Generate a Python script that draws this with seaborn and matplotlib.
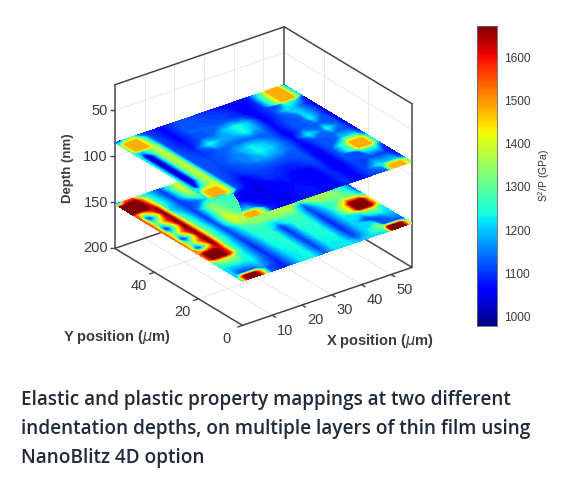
import numpy as np
import matplotlib
matplotlib.use("Agg")
import matplotlib.pyplot as plt
import seaborn as sns

nan = np.nan

# positions of the map columns and rows, in micrometres
x_positions = [0, 1.7, 2.9, 5.7, 7.4, 9.7, 14.8, 20, 23.9, 27.9, 31.9, 35.9, 39.9, 44.5, 49, 50.7, 54.7, 57]
y_positions = [0, 2.3, 4.1, 9.3, 13.9, 15.7, 19.7, 23.2, 26.7, 30.2, 33.9, 37.7, 41.8, 45.8, 49.3, 50.5, 55.7, 58]

# S2/P values, rows go from y=0 to y=max
upper_map = [
    [nan, 1450, 1480, 1480, 1350, 1090, 1050, 1070, 1080, 1070, 1060, 1090, 1060, 1110, 1130, 1470, 1480, 1300],
    [nan, 1450, 1480, 1480, 1350, 1090, 1050, 1070, 1080, 1070, 1060, 1090, 1060, 1110, 1160, 1470, 1480, 1300],
    [nan, nan, 1200, 1200, 1120, 1070, 1050, 1070, 1080, 1070, 1060, 1090, 1060, 1110, 1230, 1200, 1200, 1100],
    [nan, nan, nan, 1070, 1060, 1050, 1040, 1060, 1070, 1060, 1050, 1090, 1040, 1110, 1110, 1110, 1090, 1070],
    [nan, nan, nan, nan, 1080, 1060, 1030, 1070, 1080, 1060, 1060, 1100, 1040, 1120, 1120, 1250, 1250, 1100],
    [1200, 1470, 1480, 1480, 1400, 1110, 1040, 1090, 1090, 1070, 1080, 1110, 1040, 1120, 1300, 1480, 1480, 1200],
    [1200, 1470, 1480, 1480, 1400, 1120, 1060, 1100, 1100, 1090, 1100, 1120, 1040, 1120, 1300, 1480, 1480, 1200],
    [1230, 1040, 1200, 1340, 1380, 1120, 1090, 1120, 1130, 1130, 1120, 1120, 1050, 1120, 1130, 1200, 1200, 1080],
    [1240, 1020, 1020, 1340, 1380, 1120, 1100, 1130, 1170, 1190, 1170, 1130, 1060, 1120, 1130, 1140, 1120, 1060],
    [1240, 1010, 1020, 1340, 1380, 1120, 1110, 1150, 1160, 1240, 1210, 1140, 1060, 1230, 1140, 1240, 1130, 1050],
    [1240, 1010, 1020, 1340, 1380, 1120, 1110, 1130, 1180, 1230, 1190, 1130, 1050, 1120, 1130, 1130, 1120, 1050],
    [1240, 1010, 1020, 1340, 1380, 1120, 1100, 1130, 1140, 1130, 1130, 1130, 1060, 1120, 1130, 1230, 1110, 1050],
    [1240, 1010, 1020, 1340, 1380, 1120, 1080, 1240, 1180, 1180, 1240, 1170, 1060, 1110, 1140, 1210, 1120, 1050],
    [1240, 1020, 1020, 1340, 1380, 1110, 1070, 1120, 1130, 1200, 1250, 1190, 1050, 1100, 1230, 1200, 1100, 1050],
    [1240, 1200, 1240, 1340, 1380, 1120, 1060, 1120, 1130, 1130, 1130, 1110, 1050, 1100, 1140, 1300, 1200, 1070],
    [1300, 1480, 1480, 1480, 1350, 1120, 1060, 1130, 1130, 1120, 1110, 1090, 1050, 1100, 1350, 1480, 1480, 1180],
    [1300, 1480, 1480, 1480, 1300, 1110, 1060, 1120, 1120, 1110, 1100, 1080, 1040, 1090, 1350, 1480, 1480, 1180],
    [1100, 1060, 1250, 1300, 1150, 1100, 1060, 1110, 1110, 1100, 1080, 1060, 1040, 1080, 1300, 1480, 1480, 1120],
]
lower_map = [
    [1220, 1600, 1680, 1680, 1500, 1120, 1080, 1220, 1240, 1120, 1230, 1230, 1190, 1220, 1210, 1680, 1680, 1300],
    [1220, 1600, 1680, 1680, 1500, 1120, 1080, 1220, 1240, 1110, 1230, 1230, 1130, 1220, 1300, 1680, 1680, 1300],
    [1210, 1120, 1100, 1100, 1120, 1170, 1080, 1220, 1240, 1100, 1230, 1230, 1100, 1210, 1340, 1120, 1100, 1120],
    [1230, 1210, 1220, 1230, 1230, 1240, 1080, 1230, 1250, 1090, 1240, 1240, 1080, 1210, 1090, 1120, 1200, 1200],
    [1300, 1350, 1380, 1380, 1350, 1250, 1080, 1240, 1250, 1090, 1240, 1240, 1080, 1220, 1240, 1350, 1350, 1240],
    [1500, 1680, 1680, 1680, 1600, 1270, 1080, 1240, 1260, 1080, 1250, 1250, 1080, 1220, 1450, 1680, 1680, 1400],
    [1500, 1670, 1680, 1680, 1600, 1280, 1090, 1250, 1260, 1090, 1260, 1260, 1090, 1220, 1450, 1680, 1680, 1400],
    [1500, 1100, 1090, 1400, 1680, 1310, 1100, 1260, 1260, 1210, 1270, 1270, 1100, 1240, 1290, 1330, 1280, 1170],
    [1520, 1330, 1330, 1560, 1680, 1320, 1100, 1280, 1340, 1340, 1360, 1360, 1120, 1340, 1340, 1340, 1240, 1120],
    [1520, 1090, 1090, 1400, 1680, 1330, 1100, 1400, 1360, 1350, 1370, 1370, 1350, 1370, 1380, 1300, 1230, 1120],
    [1540, 1330, 1330, 1580, 1680, 1320, 1090, 1410, 1280, 1280, 1280, 1280, 1280, 1280, 1280, 1280, 1280, 1200],
    [1540, 1090, 1090, 1400, 1680, 1310, 1090, 1350, 1280, 1280, 1280, 1280, 1280, 1280, 1280, 1280, 1280, 1200],
    [1540, 1330, 1330, 1580, 1680, 1290, 1090, 1340, 1270, 1270, 1270, 1270, 1270, 1270, 1270, 1270, 1270, 1200],
    [1550, 1090, 1090, 1400, 1680, 1220, 1100, 1150, 1270, 1270, 1270, 1270, 1270, 1270, 1270, 1270, 1270, 1200],
    [1560, 1450, 1450, 1600, 1660, 1270, 1090, 1300, 1260, 1260, 1260, 1260, 1260, 1260, 1260, 1260, 1260, 1200],
    [1680, 1680, 1680, 1680, 1600, 1280, 1090, 1350, 1260, 1260, 1260, 1260, 1260, 1260, 1260, 1260, 1260, 1200],
    [1680, 1680, 1680, 1680, 1500, 1260, 1090, 1400, 1260, 1260, 1260, 1260, 1260, 1260, 1260, 1260, 1260, 1200],
    [1100, 1120, 1500, 1550, 1300, 1240, 1100, 1380, 1250, 1250, 1250, 1250, 1250, 1250, 1250, 1250, 1250, 1200],
]
layer_depths = [85, 152]

x_ticks = [10, 20, 30, 40, 50]
y_ticks = [0, 20, 40]
z_ticks = [50, 100, 150, 200]
cbar_ticks = [1000, 1100, 1200, 1300, 1400, 1500, 1600]
xmax, ymax = 57, 58
zmin, zmax = 22, 200
vmin, vmax = 977, 1674

caption = ["Elastic and plastic property mappings at two different",
           "indentation depths, on multiple layers of thin film using",
           "NanoBlitz 4D option"]
caption_baselines = [405, 434, 462.5]

sns.set_theme(style="white")
plt.rcParams["font.family"] = ["Liberation Sans", "DejaVu Sans"]
jet = matplotlib.colormaps["jet"]

fig = plt.figure(figsize=(5.85, 4.83), dpi=100, facecolor="white")
W, H = 585, 483

ax = fig.add_axes([58 / W, 1 - 381.5 / H, 400 / W, 400 / H], projection="3d", computed_zorder=False)
ax.set_proj_type("ortho")
ax.view_init(elev=27, azim=-127)
ax.set_box_aspect((1, 1, 0.865), zoom=0.854)
ax.set_axis_off()

line = "#454545"
grid = "#e8e8e8"

# walls and floor grid
for xt in x_ticks:
    ax.plot([xt, xt], [0, ymax], [zmax, zmax], color=grid, lw=0.7, zorder=1)
    ax.plot([xt, xt], [ymax, ymax], [zmax, zmin], color=grid, lw=0.7, zorder=1)
for yt in y_ticks[1:]:
    ax.plot([0, xmax], [yt, yt], [zmax, zmax], color=grid, lw=0.7, zorder=1)
    ax.plot([xmax, xmax], [yt, yt], [zmax, zmin], color=grid, lw=0.7, zorder=1)
for zt in z_ticks[:-1]:
    ax.plot([0, xmax], [ymax, ymax], [zt, zt], color=grid, lw=0.7, zorder=1)
    ax.plot([xmax, xmax], [0, ymax], [zt, zt], color=grid, lw=0.7, zorder=1)

# box edges
ax.plot([0, xmax], [ymax, ymax], [zmin, zmin], color=line, lw=1.1, zorder=2)
ax.plot([xmax, xmax], [ymax, 0], [zmin, zmin], color=line, lw=1.1, zorder=2)
ax.plot([xmax, xmax], [ymax, ymax], [zmin, zmax], color=line, lw=1.1, zorder=2)
ax.plot([0, xmax], [ymax, ymax], [zmax, zmax], color=line, lw=1.1, zorder=2)
ax.plot([xmax, xmax], [0, ymax], [zmax, zmax], color=line, lw=1.1, zorder=2)
ax.plot([0, 0], [ymax, ymax], [zmin, zmax], color=line, lw=1.1, zorder=2)
ax.plot([xmax, xmax], [0, 0], [zmin, zmax], color=line, lw=1.1, zorder=2)
ax.plot([0, 0], [ymax, 0], [zmax, zmax], color=line, lw=1.1, zorder=2)
ax.plot([0, xmax], [0, 0], [zmax, zmax], color=line, lw=1.1, zorder=2)

# the two maps
X, Y = np.meshgrid(x_positions, y_positions)
levels = np.linspace(vmin, vmax + 10, 90)
for values, depth, zo in [(lower_map, layer_depths[1], 3), (upper_map, layer_depths[0], 5)]:
    Z = np.ma.masked_invalid(np.array(values, dtype=float))
    ax.contourf(X, Y, Z, levels=levels, zdir="z", offset=depth, cmap=jet,
                vmin=vmin, vmax=vmax, extend="both", zorder=zo)

ax.set_xlim(0, xmax)
ax.set_ylim(0, ymax)
ax.set_zlim(zmax, zmin)

# ticks and labels
tick_txt = "#3a3a3a"
for xt in x_ticks:
    ax.plot([xt, xt], [0, -1.6], [zmax, zmax], color=line, lw=1, zorder=6)
    ax.text(xt, -6, zmax + 8, str(xt), ha="center", va="center", fontsize=10.5, color=tick_txt)
for yt in y_ticks:
    ax.plot([0, -1.6], [yt, yt], [zmax, zmax], color=line, lw=1, zorder=6)
    ax.text(-5.3, yt, zmax + 9, str(yt), ha="center", va="center", fontsize=10.5, color=tick_txt)
for zt in z_ticks:
    ax.plot([0, -0.8], [ymax, ymax + 0.6], [zt, zt], color=line, lw=1, zorder=6)
    ax.text(-1.5, ymax + 1.1, zt, str(zt), ha="right", va="center", fontsize=10.5, color=tick_txt)

lab = dict(fontweight="bold", color="#3c3c3c", ha="center", va="center")
fig.text(68 / W, 1 - 168 / H, "Depth (nm)", rotation=90, fontsize=9.5, **lab)
fig.text(117 / W, 1 - 337 / H, "Y position ($\\mu$m)", fontsize=10.5, **lab)
fig.text(380 / W, 1 - 341 / H, "X position ($\\mu$m)", fontsize=10.5, **lab)

# colour strip
cax = fig.add_axes([477 / W, 1 - 326 / H, 20 / W, 300 / H])
strip = np.linspace(vmax, vmin, 256).reshape(-1, 1)
sns.heatmap(strip, ax=cax, cmap=jet, vmin=vmin, vmax=vmax, cbar=False, xticklabels=False)
cax.yaxis.tick_right()
cax.set_yticks([(vmax - v) / (vmax - vmin) * 256 for v in cbar_ticks])
cax.set_yticklabels([str(v) for v in cbar_ticks], rotation=0, fontsize=8.6, color=tick_txt)
cax.tick_params(axis="y", length=2, width=0.6, direction="in", color="#444444", pad=5, right=True)
for side in cax.spines.values():
    side.set_visible(True)
    side.set_color("#666666")
    side.set_linewidth(0.6)
fig.text(544 / W, 1 - 175 / H, "S$^2$/P (GPa)", rotation=90, fontsize=7.4, color="#333333",
         ha="center", va="center")

for row, base in zip(caption, caption_baselines):
    fig.text(21 / W, 1 - base / H, row, fontsize=13.7, family="Open Sans", fontweight=600,
             color="#1f2b38", ha="left", va="baseline")

fig.savefig("out.png", dpi=100)
